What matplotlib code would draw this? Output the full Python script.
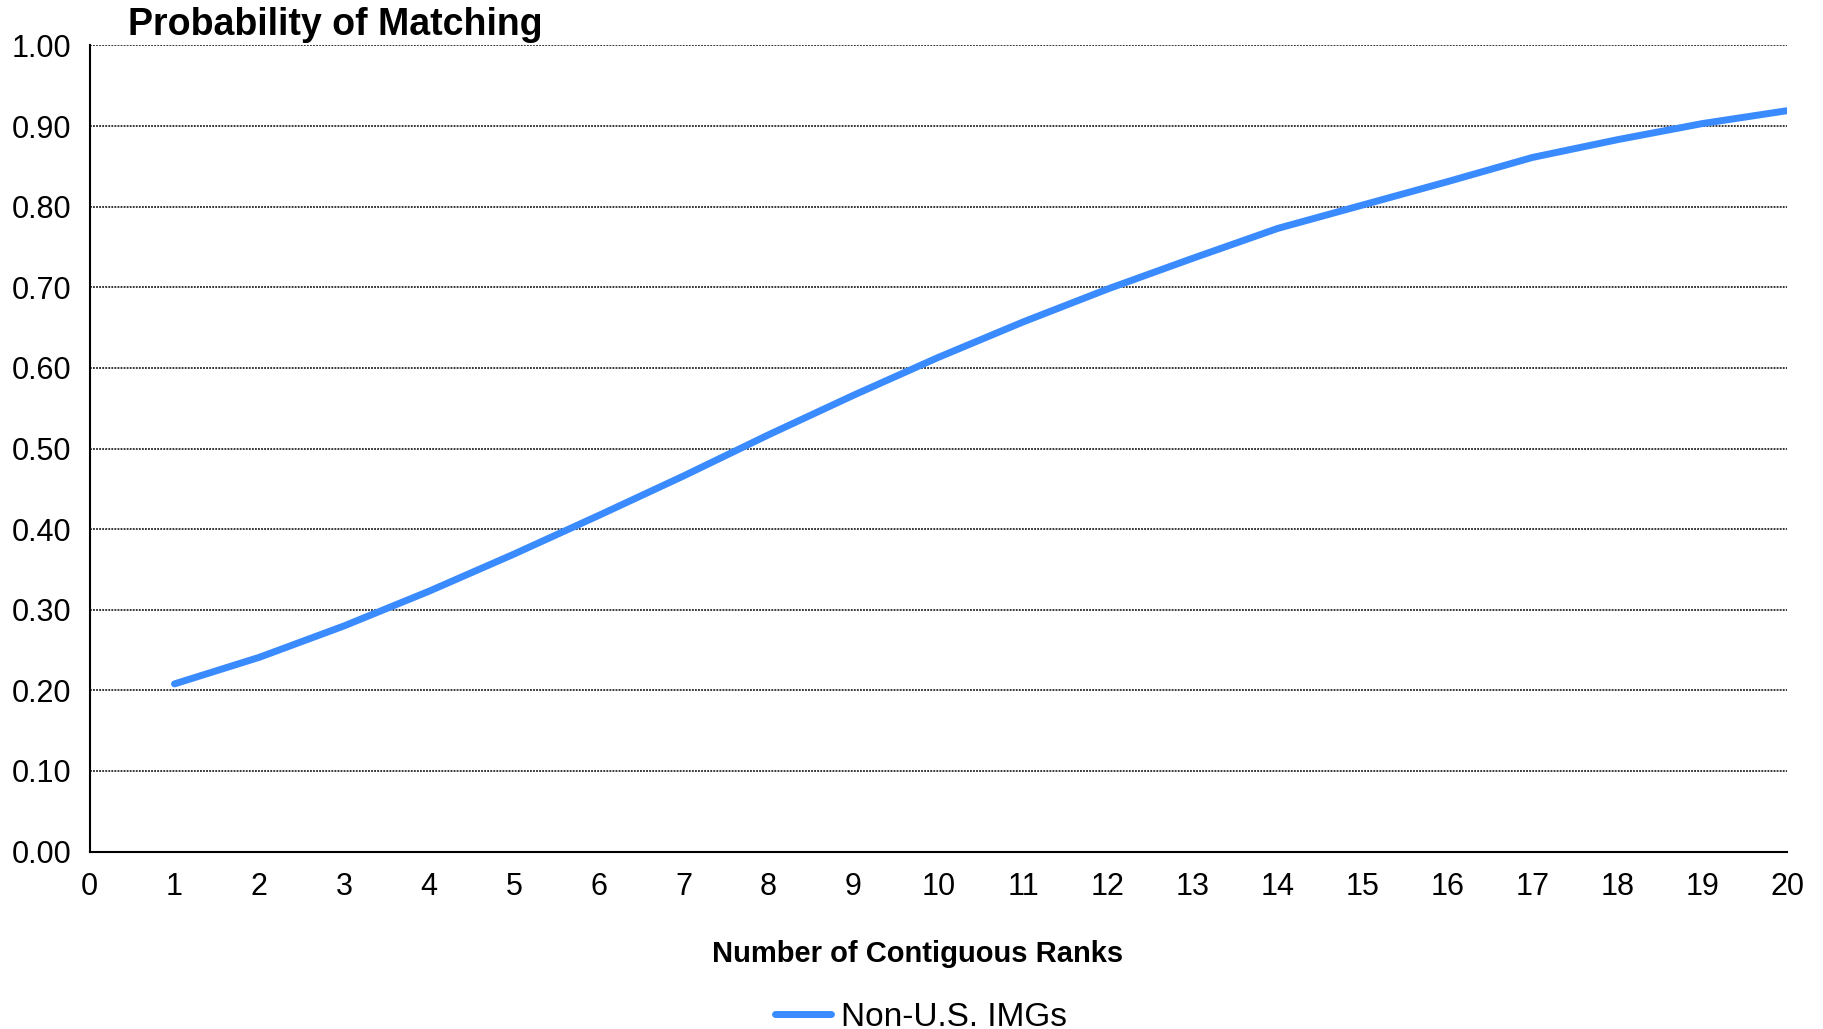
import matplotlib
matplotlib.use("Agg")
import matplotlib.pyplot as plt

plt.rcParams['font.family'] = ['Liberation Sans', 'DejaVu Sans']

ranks = list(range(1, 21))
prob_non_us = [0.208, 0.241, 0.280, 0.323, 0.369, 0.417, 0.466, 0.517, 0.566, 0.613,
               0.657, 0.698, 0.736, 0.773, 0.802, 0.831, 0.861, 0.883, 0.903, 0.919]
series_label = "Non-U.S. IMGs"
x_ticks = list(range(0, 21))
y_ticks = [i / 10 for i in range(11)]

fig = plt.figure(figsize=(18.24, 10.29), dpi=100)
ax = fig.add_axes([89.6 / 1824, 1 - 851.6 / 1029, (1787 - 89.6) / 1824, (851.6 - 45.4) / 1029])

ax.plot(ranks, prob_non_us, color='#3a8bff', lw=5, solid_capstyle='round',
        solid_joinstyle='round', label=series_label, zorder=3)

ax.set_xlim(0, 20)
ax.set_ylim(0, 1)
ax.set_xticks(x_ticks)
ax.set_xticklabels([str(v) for v in x_ticks])
ax.set_yticks(y_ticks)
ax.set_yticklabels([f"{v:.2f}" for v in y_ticks])
ax.tick_params(axis='both', length=0, labelsize=22)
ax.tick_params(axis='x', pad=15)
ax.tick_params(axis='y', pad=13)

ax.grid(axis='y', color='black', linestyle=(0, (1.2, 0.8)), linewidth=1.1, zorder=0)
ax.set_axisbelow(True)
for s in ['top', 'right']:
    ax.spines[s].set_visible(False)
ax.spines['left'].set_linewidth(1.5)
ax.spines['bottom'].set_linewidth(1.5)

fig.text(128 / 1824, 1 - 25 / 1029, "Probability of Matching", fontsize=27,
         fontweight='bold', ha='left', va='center')
fig.text(918 / 1824, 1 - 954 / 1029, "Number of Contiguous Ranks", fontsize=21,
         fontweight='bold', ha='center', va='center')

fig.legend(loc='center', bbox_to_anchor=(0.505, 1 - 1017 / 1029), frameon=False,
           fontsize=24, handlelength=1.67, handletextpad=0.3, borderpad=0)

fig.savefig("out.png", dpi=100)
